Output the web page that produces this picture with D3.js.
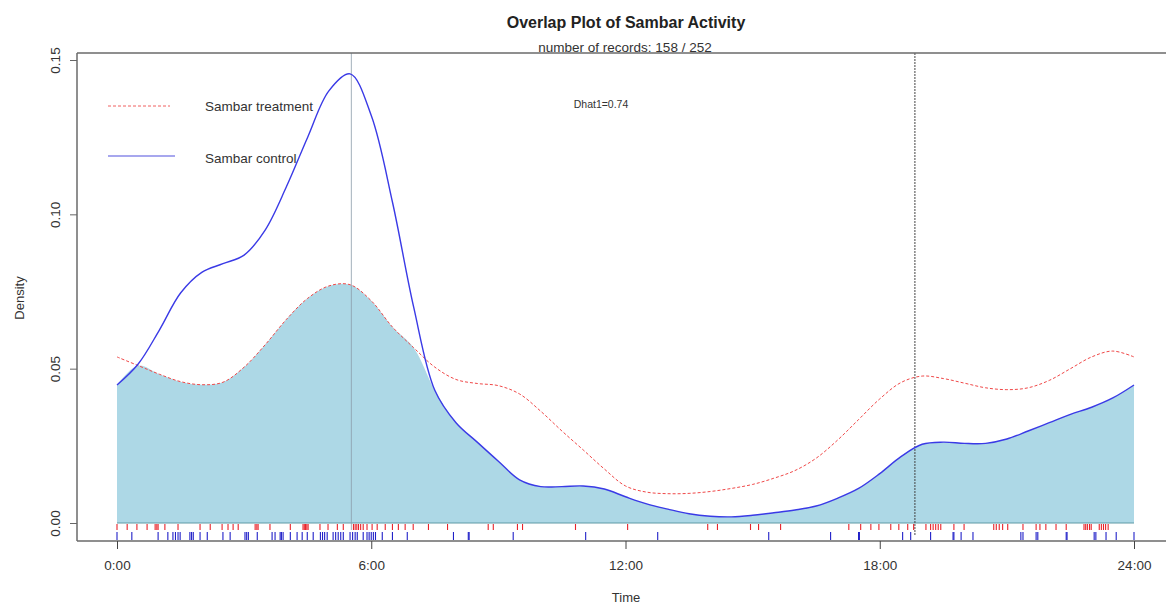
<!DOCTYPE html>
<html lang="en">
<head>
    <meta charset="UTF-8">
    <title>Overlap Plot of Sambar Activity</title>
    <script src="https://d3js.org/d3.v7.min.js"></script>
    <style>
        body { margin: 0; background: #fff; }
        svg text { font-family: "Liberation Sans", Arial, sans-serif; fill: #333; }
    </style>
</head>
<body>
<svg id="chart" width="1166" height="604"></svg>
<script>
    // time of day in hours, every half hour
    var hours = [0, 0.5, 1, 1.5, 2, 2.5, 3, 3.5, 4, 4.5, 5, 5.5, 6, 6.5, 7, 7.5, 8, 8.5, 9, 9.5,
        10, 10.5, 11, 11.5, 12, 12.5, 13, 13.5, 14, 14.5, 15, 15.5, 16, 16.5, 17, 17.5, 18, 18.5,
        19, 19.5, 20, 20.5, 21, 21.5, 22, 22.5, 23, 23.5, 24];

    var treatment = [0.0538, 0.0510, 0.0482, 0.0458, 0.0448, 0.0456, 0.0505, 0.0578, 0.0660, 0.0728,
        0.0768, 0.0772, 0.0720, 0.0635, 0.0568, 0.0505, 0.0465, 0.0452, 0.0445, 0.0418,
        0.0362, 0.0298, 0.0237, 0.0175, 0.0120, 0.0100, 0.0095, 0.0096, 0.0102, 0.0112,
        0.0125, 0.0145, 0.0170, 0.0210, 0.0268, 0.0335, 0.0402, 0.0455, 0.0476, 0.0468,
        0.0453, 0.0438, 0.0432, 0.0438, 0.0462, 0.0500, 0.0538, 0.0557, 0.0538];

    var control = [0.0447, 0.0515, 0.0625, 0.0745, 0.0812, 0.0840, 0.0868, 0.0950, 0.1090, 0.1250,
        0.1400, 0.1455, 0.1320, 0.1040, 0.0700, 0.0430, 0.0325, 0.0262, 0.0200, 0.0140,
        0.0118, 0.0118, 0.0120, 0.0110, 0.0085, 0.0062, 0.0045, 0.0030, 0.0022, 0.0020,
        0.0025, 0.0033, 0.0042, 0.0055, 0.0080, 0.0112, 0.0160, 0.0215, 0.0255, 0.0262,
        0.0258, 0.0258, 0.0272, 0.0298, 0.0325, 0.0352, 0.0375, 0.0405, 0.0447];

    // rug: record times (hours)
    var treatmentTimes = [0, 0.24, 0.47, 0.71, 0.9, 0.94, 0.97, 1.13, 1.44, 1.96, 2.2, 2.48, 2.62, 2.74,
        2.86, 3.26, 3.3, 3.33, 3.61, 4.09, 4.39, 4.42, 4.45, 4.48, 4.51, 4.79, 4.98, 5.2, 5.34,
        5.58, 5.62, 5.66, 5.7, 5.75, 5.81, 5.9, 6.02, 6.14, 6.33, 6.5, 6.64, 6.8, 6.99, 7.35, 7.8,
        8.76, 8.88, 9.45, 9.57, 10.82, 12.05, 13.94, 14.17, 14.95, 15.14, 15.66, 17.27, 17.55,
        17.79, 17.98, 18.26, 18.45, 18.66, 18.8, 19.09, 19.2, 19.26, 19.32, 19.38, 19.44, 19.75,
        19.99, 20.69, 20.75, 20.82, 20.9, 21.02, 21.38, 21.69, 21.78, 21.92, 22.16, 22.4, 22.82,
        22.86, 22.9, 22.95, 22.99, 23.18, 23.23, 23.28, 23.33, 23.39];

    var controlTimes = [0, 0.35, 0.97, 1.2, 1.32, 1.38, 1.44, 1.49, 1.72, 1.76, 1.8, 1.96, 2.13, 2.5,
        2.67, 3.02, 3.06, 3.1, 3.31, 3.66, 3.73, 3.85, 3.88, 3.92, 4.09, 4.25, 4.37, 4.49, 4.63,
        4.8, 4.85, 4.9, 4.96, 5.1, 5.16, 5.22, 5.28, 5.34, 5.5, 5.56, 5.62, 5.67, 5.81, 5.9, 5.95,
        6.0, 6.05, 6.1, 6.26, 6.5, 6.85, 7.94, 8.29, 8.31, 9.35, 11.06, 12.76, 15.38, 16.84, 17.5,
        17.52, 18.54, 18.73, 19.2, 19.73, 19.75, 19.92, 20.2, 21.33, 21.38, 21.69, 21.73, 22.4,
        22.42, 23.06, 23.1, 23.34, 23.58, 24.0];

    var xTicks = [0, 6, 12, 18, 24];
    var xTickLabels = ["0:00", "6:00", "12:00", "18:00", "24:00"];
    var yTicks = [0, 0.05, 0.10, 0.15];
    var refTimes = [5.53, 18.83];   // sunrise / sunset markers

    var svg = d3.select("#chart");
    var width = 1166, height = 604;

    var x = d3.scaleLinear().domain([0, 24]).range([117, 1134]);
    var y = d3.scaleLinear().domain([0, 0.15]).range([523, 60]);

    var boxLeft = 77, boxTop = 53, boxBottom = 541;

    var overlap = hours.map(function (h, i) {
        return {h: h, v: Math.min(treatment[i], control[i])};
    });

    // shaded overlap
    var area = d3.area()
            .x(function (d) { return x(d.h); })
            .y0(y(0))
            .y1(function (d) { return y(d.v); })
            .curve(d3.curveCatmullRom.alpha(0.5));

    svg.append("path")
            .datum(overlap)
            .attr("d", area)
            .attr("fill", "#add8e6");

    svg.append("line")
            .attr("x1", x(0)).attr("x2", x(24))
            .attr("y1", y(0)).attr("y2", y(0))
            .attr("stroke", "#5e9aa6").attr("stroke-width", 1.2);

    // reference vertical lines
    svg.append("line")
            .attr("x1", x(refTimes[0])).attr("x2", x(refTimes[0]))
            .attr("y1", boxTop).attr("y2", 530)
            .attr("stroke", "#8a9aa8").attr("stroke-width", 0.8);
    svg.append("line")
            .attr("x1", x(refTimes[1])).attr("x2", x(refTimes[1]))
            .attr("y1", boxTop).attr("y2", 536)
            .attr("stroke", "#444").attr("stroke-width", 1)
            .attr("stroke-dasharray", "2,1");

    var line = d3.line()
            .x(function (d) { return x(d[0]); })
            .y(function (d) { return y(d[1]); })
            .curve(d3.curveCatmullRom.alpha(0.5));

    svg.append("path")
            .datum(d3.zip(hours, treatment))
            .attr("d", line)
            .attr("fill", "none")
            .attr("stroke", "#f04848")
            .attr("stroke-width", 1)
            .attr("stroke-dasharray", "3,2");

    svg.append("path")
            .datum(d3.zip(hours, control))
            .attr("d", line)
            .attr("fill", "none")
            .attr("stroke", "#3a3ae6")
            .attr("stroke-width", 1.4);

    // rugs
    svg.append("g").selectAll("line")
            .data(treatmentTimes)
            .enter().append("line")
            .attr("x1", function (d) { return x(d); })
            .attr("x2", function (d) { return x(d); })
            .attr("y1", 524).attr("y2", 530)
            .attr("stroke", "#e8232a").attr("stroke-width", 1.1);

    svg.append("g").selectAll("line")
            .data(controlTimes)
            .enter().append("line")
            .attr("x1", function (d) { return x(d); })
            .attr("x2", function (d) { return x(d); })
            .attr("y1", 532).attr("y2", 540)
            .attr("stroke", "#2020c8").attr("stroke-width", 1.1);

    // box
    var boxColor = "#6a6a6a";
    svg.append("line").attr("x1", boxLeft).attr("x2", boxLeft).attr("y1", boxTop).attr("y2", boxBottom)
            .attr("stroke", boxColor).attr("stroke-width", 1.5);
    svg.append("line").attr("x1", boxLeft).attr("x2", width).attr("y1", boxTop).attr("y2", boxTop)
            .attr("stroke", boxColor).attr("stroke-width", 1.5);
    svg.append("line").attr("x1", boxLeft).attr("x2", width).attr("y1", boxBottom).attr("y2", boxBottom)
            .attr("stroke", boxColor).attr("stroke-width", 1.5);

    // x axis
    var xAxis = d3.axisBottom(x)
            .tickValues(xTicks)
            .tickSize(8)
            .tickPadding(11)
            .tickFormat(function (d, i) { return xTickLabels[i]; });
    var gx = svg.append("g")
            .attr("transform", "translate(0," + boxBottom + ")")
            .call(xAxis);
    gx.select(".domain").remove();
    gx.selectAll("line").attr("stroke", "#444");
    gx.selectAll("text").attr("font-size", 13.5).style("fill", "#333");

    // y axis
    var yAxis = d3.axisLeft(y)
            .tickValues(yTicks)
            .tickSize(7)
            .tickFormat(d3.format(".2f"));
    var gy = svg.append("g")
            .attr("transform", "translate(" + boxLeft + ",0)")
            .call(yAxis);
    gy.select(".domain").remove();
    gy.selectAll("line").attr("stroke", "#666");
    gy.selectAll("text")
            .attr("font-size", 13.5)
            .attr("x", 0).attr("dy", 0)
            .attr("text-anchor", "middle")
            .attr("transform", "translate(-17,0) rotate(-90)")
            .style("fill", "#333");

    // titles
    svg.append("text")
            .attr("x", 626).attr("y", 28)
            .attr("text-anchor", "middle")
            .attr("font-size", 16).attr("font-weight", "bold")
            .style("fill", "#222")
            .text("Overlap Plot of Sambar Activity");
    svg.append("text")
            .attr("x", 625).attr("y", 52)
            .attr("text-anchor", "middle")
            .attr("font-size", 13.5)
            .text("number of records: 158 / 252");
    svg.append("text")
            .attr("x", 626).attr("y", 602)
            .attr("text-anchor", "middle")
            .attr("font-size", 13)
            .text("Time");
    svg.append("text")
            .attr("transform", "translate(24,298) rotate(-90)")
            .attr("text-anchor", "middle")
            .attr("font-size", 13)
            .text("Density");

    // legend
    svg.append("line").attr("x1", 108).attr("x2", 170).attr("y1", 106).attr("y2", 106)
            .attr("stroke", "#f06060").attr("stroke-width", 1).attr("stroke-dasharray", "3,2");
    svg.append("text").attr("x", 205).attr("y", 111).attr("font-size", 13.5)
            .text("Sambar treatment");
    svg.append("line").attr("x1", 108).attr("x2", 175).attr("y1", 156).attr("y2", 156)
            .attr("stroke", "#8a8ae8").attr("stroke-width", 1.5);
    svg.append("text").attr("x", 205).attr("y", 163).attr("font-size", 13.5)
            .text("Sambar control");

    svg.append("text").attr("x", 601).attr("y", 108)
            .attr("text-anchor", "middle")
            .attr("font-size", 10.5)
            .text("Dhat1=0.74");
</script>
</body>
</html>
